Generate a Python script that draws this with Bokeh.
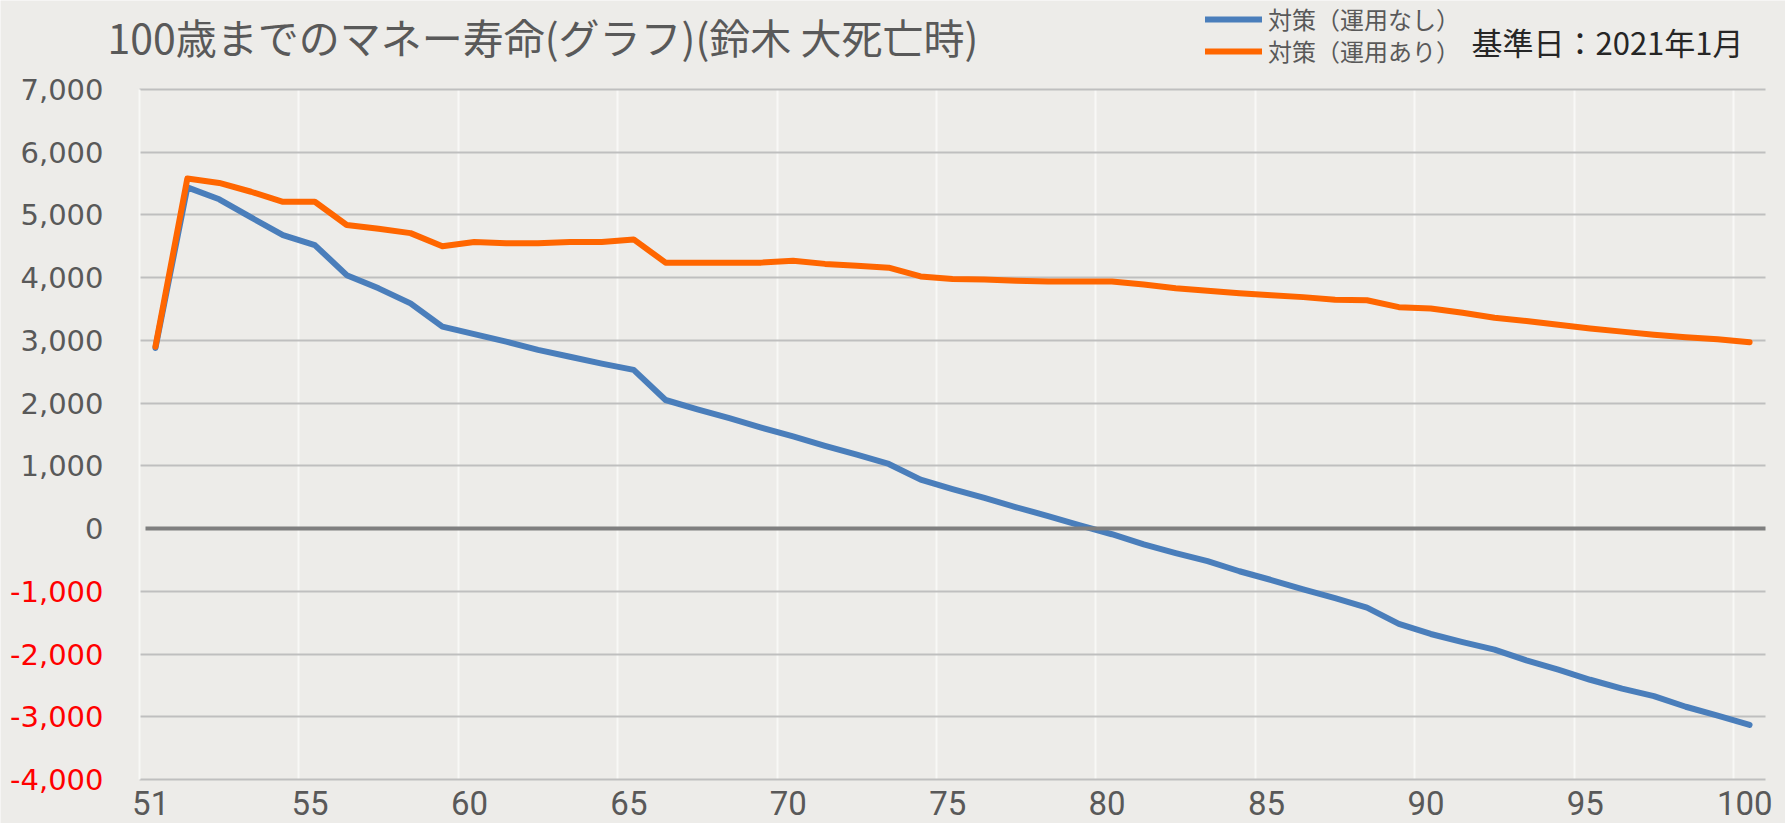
from bokeh.plotting import figure
from bokeh.models import (FixedTicker, Label, BoxAnnotation,
                          Legend, LegendItem, Range1d, NumeralTickFormatter, LinearAxis)
from bokeh.embed import file_html
from bokeh.resources import INLINE

# ---------------- data ----------------
ages = list(range(50, 101))
no_invest = [2880, 5440, 5250, 4960, 4680, 4520, 4040, 3830, 3590, 3220,
             3100, 2980, 2850, 2740, 2630, 2530, 2050, 1900, 1760, 1610,
             1470, 1320, 1180, 1030, 780, 630, 490, 340, 200, 50,
             -90, -250, -390, -520, -680, -820, -970, -1110, -1260, -1520,
             -1680, -1810, -1930, -2100, -2250, -2410, -2550, -2670, -2840, -2980,
             -3130]
with_invest = [2900, 5580, 5510, 5370, 5210, 5210, 4840, 4780, 4710, 4500,
               4570, 4550, 4550, 4570, 4570, 4610, 4240, 4240, 4240, 4240,
               4270, 4220, 4190, 4160, 4020, 3980, 3970, 3950, 3940, 3940,
               3940, 3890, 3830, 3790, 3750, 3720, 3690, 3650, 3640, 3530,
               3510, 3440, 3360, 3310, 3250, 3190, 3140, 3090, 3050, 3020,
               2970]
series_names = ["対策（運用なし）", "対策（運用あり）"]
y_ticks = list(range(-4000, 7001, 1000))
x_label_ages = [50, 55, 60, 65, 70, 75, 80, 85, 90, 95, 100]
x_tick_labels = ["51", "55", "60", "65", "70", "75", "80", "85", "90", "95", "100"]
title_text = "100歳までのマネー寿命(グラフ)(鈴木 大死亡時)"
date_text = "基準日：2021年1月"

# ---------------- layout / style ----------------
W, H = 1785, 823
PX_L, PX_R, PX_T, PX_B = 139, 1765, 89, 779          # plot area in canvas pixels
BG = "#edece9"
BLUE = "#4a7ebb"
ORANGE = "#ff6600"
GRAY_TXT = "#595959"
JP = "Noto Sans CJK JP"
NUM = "DejaVu Sans"

x0, x1 = ages[0] - 0.5, ages[-1] + 0.5
y0, y1 = y_ticks[0], y_ticks[-1]
ppx = (PX_R - PX_L) / (x1 - x0)
ppy = (PX_B - PX_T) / (y1 - y0)
x_rng = Range1d(x0 - PX_L / ppx, x1 + (W - PX_R) / ppx)
y_rng = Range1d(y0 - (H - PX_B) / ppy, y1 + PX_T / ppy)

p = figure(width=W, height=H, output_backend="svg", toolbar_location=None,
           x_range=x_rng, y_range=y_rng,
           min_border=0, min_border_left=0, min_border_right=0,
           min_border_top=0, min_border_bottom=0)
p.background_fill_color = BG
p.border_fill_color = BG
p.outline_line_color = None

# grids
xg = p.xgrid[0]
yg = p.ygrid[0]
xg.ticker = FixedTicker(ticks=[a - 0.5 for a in x_label_ages[1:]])
xg.grid_line_color = "#f8f8f6"
xg.grid_line_width = 2
yg.ticker = FixedTicker(ticks=[t for t in y_ticks if t != 0])
yg.grid_line_color = "#bfbfbf"
yg.grid_line_width = 2
if "cross_bounds" in xg.properties():
    xg.cross_bounds = (y0, y1)
    yg.cross_bounds = (x0, x1)
else:
    for kw in (dict(left=x_rng.start, right=x0, bottom=y_rng.start, top=y_rng.end),
               dict(left=x1, right=x_rng.end, bottom=y_rng.start, top=y_rng.end),
               dict(left=x_rng.start, right=x_rng.end, bottom=y1, top=y_rng.end),
               dict(left=x_rng.start, right=x_rng.end, bottom=y_rng.start, top=y0)):
        p.add_layout(BoxAnnotation(fill_color=BG, fill_alpha=1, line_color=None,
                                   level="underlay", **kw))

# x axis (category labels) at bottom of plot area
xa = p.xaxis[0]
xa.fixed_location = y0
xa.ticker = FixedTicker(ticks=[a - 0.15 for a in x_label_ages])
xa.major_label_overrides = {a - 0.15: t for a, t in zip(x_label_ages, x_tick_labels)}
xa.axis_line_color = None
xa.major_tick_line_color = None
xa.minor_tick_line_color = None
xa.major_label_text_font = "Roboto"
xa.major_label_text_font_size = "33px"
xa.major_label_text_color = GRAY_TXT
xa.major_label_standoff = 5

# y axis: non-negative labels (gray)
ya = p.yaxis[0]
ya.fixed_location = x0
ya.bounds = (y0, y1)
ya.ticker = FixedTicker(ticks=[t for t in y_ticks if t >= 0])
ya.formatter = NumeralTickFormatter(format="0,0")
ya.major_label_text_font = NUM
ya.major_label_text_font_size = "29px"
ya.major_label_text_color = GRAY_TXT
ya.major_tick_line_color = None
ya.minor_tick_line_color = None
ya.major_label_standoff = 30
ya.axis_line_color = "#f8f8f6"
ya.axis_line_width = 2

# y axis: negative labels (red)
ya_neg = LinearAxis(fixed_location=x0,
                    ticker=FixedTicker(ticks=[t for t in y_ticks if t < 0]),
                    formatter=NumeralTickFormatter(format="0,0"),
                    major_label_text_font=NUM, major_label_text_font_size="29px",
                    major_label_text_color="#ff0000", major_tick_line_color=None,
                    minor_tick_line_color=None, major_label_standoff=30,
                    axis_line_color=None)
p.add_layout(ya_neg, "left")

# zero line (horizontal category axis crossing at 0)
zero_axis = LinearAxis(fixed_location=0, bounds=(x0 + 0.2, x1), ticker=FixedTicker(ticks=[]),
                       axis_line_color="#7f7f7f", axis_line_width=4,
                       major_tick_line_color=None, minor_tick_line_color=None,
                       major_label_text_font_size="0px")
p.add_layout(zero_axis, "below")

# lines
r1 = p.line(ages, no_invest, line_color=BLUE, line_width=6, line_join="round", line_cap="round")
r2 = p.line(ages, with_invest, line_color=ORANGE, line_width=6, line_join="round", line_cap="round")

# legend: one entry per Legend so that row positions are exact
for name, rend, row_center in ((series_names[0], r1, 19), (series_names[1], r2, 51)):
    lg = Legend(items=[LegendItem(label=name, renderers=[rend])],
                location=(1205, H - (row_center + 17)), orientation="vertical",
                label_text_font=JP, label_text_font_size="24px", label_text_color=GRAY_TXT,
                glyph_width=57, glyph_height=34, label_height=34, spacing=0,
                padding=0, margin=0, label_standoff=6,
                border_line_color=None, background_fill_alpha=0)
    p.add_layout(lg)

p.add_layout(Label(x=107, y=H - 35, x_units="screen", y_units="screen", text=title_text,
                   text_font=JP, text_font_size="41px", text_color=GRAY_TXT,
                   text_baseline="middle"))
p.add_layout(Label(x=1471, y=H - 41, x_units="screen", y_units="screen", text=date_text,
                   text_font=JP, text_font_size="31px", text_color="#262626",
                   text_baseline="middle"))

open("out.html", "w").write(file_html(p, INLINE))
